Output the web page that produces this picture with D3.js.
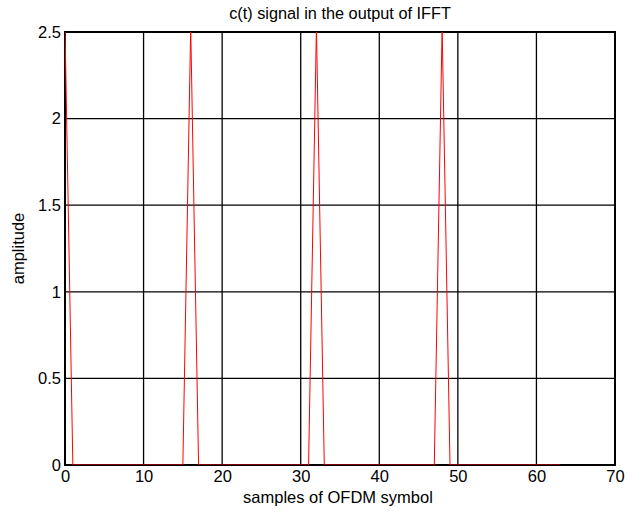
<!DOCTYPE html>
<html>
<head>
<meta charset="utf-8">
<script src="https://cdn.jsdelivr.net/npm/d3@7"></script>
<style>
body { margin: 0; background: #fff; }
text { font-family: "Liberation Sans", Arial, sans-serif; }
</style>
</head>
<body>
<script>
// samples of the IFFT output, 0..63
var samples = d3.range(0, 64);
var peakAt = [0, 16, 32, 48];
var peakValue = 2.53;
var amplitude = samples.map(function(s){ return peakAt.indexOf(s) >= 0 ? peakValue : 0; });

var xTicks = [0, 10, 20, 30, 40, 50, 60, 70];
var yTicks = [0, 0.5, 1, 1.5, 2, 2.5];

var W = 635, H = 512;
var m = {left: 65, right: 20, top: 32, bottom: 47};

var svg = d3.select("body").append("svg")
	.attr("width", W)
	.attr("height", H);

var x = d3.scaleLinear().domain([0, 70]).range([m.left, W - m.right]);
var y = d3.scaleLinear().domain([0, 2.5]).range([H - m.bottom, m.top]);

// grid
svg.append("g").selectAll("line").data(xTicks).enter().append("line")
	.attr("x1", function(d){ return x(d); })
	.attr("x2", function(d){ return x(d); })
	.attr("y1", y(0)).attr("y2", y(2.5))
	.attr("stroke", "#000").attr("stroke-width", 1.3);
svg.append("g").selectAll("line").data(yTicks).enter().append("line")
	.attr("y1", function(d){ return y(d); })
	.attr("y2", function(d){ return y(d); })
	.attr("x1", x(0)).attr("x2", x(70))
	.attr("stroke", "#000").attr("stroke-width", 1.3);

// box
svg.append("rect")
	.attr("x", x(0)).attr("y", y(2.5))
	.attr("width", x(70) - x(0)).attr("height", y(0) - y(2.5))
	.attr("fill", "none").attr("stroke", "#000").attr("stroke-width", 2);

svg.append("clipPath").attr("id", "clip").append("rect")
	.attr("x", x(0)).attr("y", y(2.5))
	.attr("width", x(70) - x(0)).attr("height", y(0) - y(2.5));

// signal
var line = d3.line()
	.x(function(d, i){ return x(samples[i]); })
	.y(function(d){ return y(d); });
svg.append("path")
	.datum(amplitude)
	.attr("clip-path", "url(#clip)")
	.attr("d", line)
	.attr("fill", "none")
	.attr("stroke", "#ff0000")
	.attr("stroke-width", 1);

// axes labels
var xAxis = d3.axisBottom(x).tickValues(xTicks).tickSize(0).tickPadding(5).tickFormat(d3.format("d"));
var gx = svg.append("g").attr("transform", "translate(0," + y(0) + ")").call(xAxis);
gx.select(".domain").remove();
gx.selectAll("text").attr("font-size", 16.5).attr("fill", "#000")
	.attr("font-family", "'Liberation Sans', Arial, sans-serif");

var yAxis = d3.axisLeft(y).tickValues(yTicks).tickSize(0).tickPadding(4).tickFormat(function(d){ return String(d); });
var gy = svg.append("g").attr("transform", "translate(" + x(0) + ",0)").call(yAxis);
gy.select(".domain").remove();
gy.selectAll("text").attr("font-size", 16.5).attr("fill", "#000")
	.attr("font-family", "'Liberation Sans', Arial, sans-serif");

svg.append("text")
	.attr("x", (x(0) + x(70)) / 2).attr("y", 19)
	.attr("text-anchor", "middle").attr("font-size", 16.3)
	.text("c(t) signal in the output of IFFT");

svg.append("text")
	.attr("x", (x(0) + x(70)) / 2 - 2).attr("y", 503)
	.attr("text-anchor", "middle").attr("font-size", 16.5)
	.text("samples of OFDM symbol");

svg.append("text")
	.attr("transform", "translate(24," + ((y(0) + y(2.5)) / 2) + ") rotate(-90)")
	.attr("text-anchor", "middle").attr("font-size", 16.5)
	.text("amplitude");
</script>
</body>
</html>
